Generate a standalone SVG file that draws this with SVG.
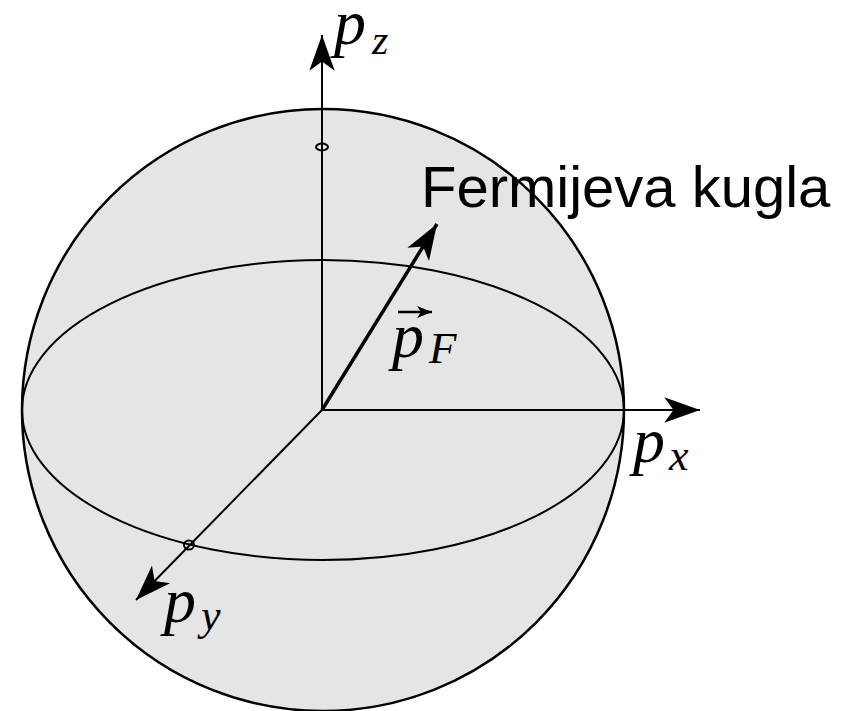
<svg xmlns="http://www.w3.org/2000/svg" width="852" height="711" viewBox="0 0 852 711">
<style>
.ln{fill:none;stroke:#000;stroke-width:2}
.math{font-family:"Liberation Serif","Times New Roman",serif;font-style:italic;fill:#000}
.lbl{font-family:"Liberation Sans",Arial,sans-serif;fill:#000}
</style>
<defs>
<marker id="ah" markerUnits="userSpaceOnUse" orient="auto" markerWidth="40" markerHeight="30" refX="0" refY="0" viewBox="-32 -13 34 26" overflow="visible">
<path d="M0,0 L-31,-11 L-23,0 L-31,11 Z" fill="#000"/>
</marker>
<marker id="ahs" markerUnits="userSpaceOnUse" orient="auto" markerWidth="18" markerHeight="14" refX="0" refY="0" viewBox="-16 -7 17 14" overflow="visible">
<path d="M0,0 L-15,-6 L-11,0 L-15,6 Z" fill="#000"/>
</marker>
</defs>
<g id="sphere">
<circle cx="323" cy="410" r="301" fill="#e5e5e5" stroke="#000" stroke-width="2.5"/>
<ellipse cx="323" cy="410" rx="301" ry="150" class="ln"/>
</g>
<g id="connectors">
<line x1="322" y1="410" x2="322" y2="35" class="ln" marker-end="url(#ah)"/>
<line x1="322" y1="410" x2="700" y2="410" class="ln" marker-end="url(#ah)"/>
<line x1="322" y1="410" x2="136" y2="600" class="ln" marker-end="url(#ah)"/>
<line x1="322" y1="410" x2="437" y2="224" fill="none" stroke="#000" stroke-width="3.5" marker-end="url(#ah)"/>
</g>
<g id="marks">
<ellipse cx="322" cy="147" rx="6" ry="3.5" class="ln"/>
<ellipse cx="189" cy="545" rx="5" ry="4.5" class="ln"/>
</g>
<g id="label-pz">
<text x="334" y="44" class="math" font-size="64">p<tspan font-size="42" dx="6" dy="10">z</tspan></text>
</g>
<g id="label-px">
<text x="633" y="462" class="math" font-size="64">p<tspan font-size="44" dx="4" dy="8">x</tspan></text>
</g>
<g id="label-py">
<text x="164" y="622" class="math" font-size="64">p<tspan font-size="44" dx="5" dy="8">y</tspan></text>
</g>
<g id="label-pF">
<text x="392" y="357" class="math" font-size="64">p<tspan font-size="45" dx="5" dy="6">F</tspan></text>
<line x1="398" y1="312" x2="432" y2="312" stroke="#000" stroke-width="2.5" marker-end="url(#ahs)"/>
</g>
<g id="label-fermi">
<text x="421" y="207" class="lbl" font-size="58">Fermijeva kugla</text>
</g>
</svg>
